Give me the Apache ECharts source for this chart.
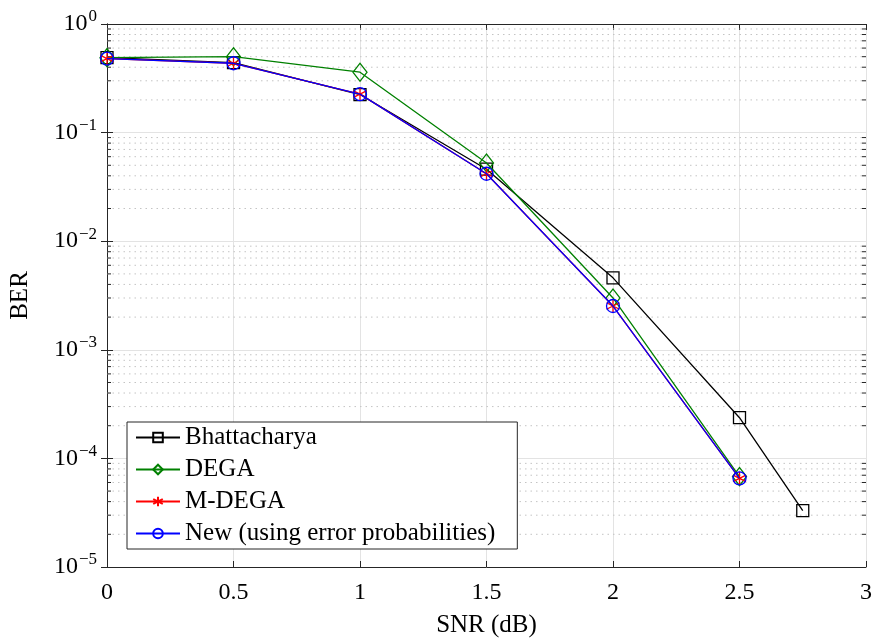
<!DOCTYPE html>
<html><head><meta charset="utf-8">
<script src="https://cdn.jsdelivr.net/npm/echarts@6/dist/echarts.min.js"></script>
<style>html,body{margin:0;padding:0;background:#fff}#c{width:873px;height:641px}</style>
</head><body><div id="c"></div>
<script>
const snrBhatta = [0, 0.5, 1, 1.5, 2, 2.5, 2.75];
const berBhatta = [0.49, 0.44, 0.224, 0.046, 0.0046, 2.37e-4, 3.3e-5];
const snrOthers = [0, 0.5, 1, 1.5, 2, 2.5];
const berDEGA = [0.49, 0.5, 0.36, 0.0525, 0.0030, 6.8e-5];
const berMDEGA = [0.48, 0.435, 0.226, 0.0418, 0.00253, 6.55e-5];
const berNew = [0.48, 0.435, 0.226, 0.0418, 0.00253, 6.55e-5];
const seriesNames = ['Bhattacharya', 'DEGA', 'M-DEGA', 'New (using error probabilities)'];
const xTicks = [0, 0.5, 1, 1.5, 2, 2.5, 3];
const yDecades = [-5, -4, -3, -2, -1, 0];
const minorMult = [2, 3, 4, 5, 6, 7, 8, 9];

const minorVals = [];
for (const d of yDecades.slice(0, -1)) for (const m of minorMult) minorVals.push(m * Math.pow(10, d));

const FONT = 'Liberation Serif';
const AX = '#262626';
const zip = (xs, ys) => xs.map((x, i) => [x, ys[i]]);
const asterisk = 'path://M0,-10L0,10M-8.66,-5L8.66,5M-8.66,5L8.66,-5';

const chart = echarts.init(document.getElementById('c'));
chart.setOption({
  animation: false,
  backgroundColor: '#fff',
  grid: { left: 107, right: 7, top: 24, bottom: 74, containLabel: false, outerBoundsMode: 'none' },
  legend: {
    orient: 'vertical', left: 127, top: 422,
    backgroundColor: '#fff', borderColor: AX, borderWidth: 1,
    padding: [3, 22, 3, 8], itemGap: 7, itemWidth: 44, itemHeight: 12,
    textStyle: { fontFamily: FONT, fontSize: 25, color: '#000' },
    data: seriesNames
  },
  xAxis: [{
    type: 'value', min: 0, max: 3, interval: 0.5,
    axisLine: { lineStyle: { color: AX } },
    axisTick: { inside: true, length: 6, lineStyle: { color: AX } },
    axisLabel: { fontFamily: FONT, fontSize: 24, color: '#000', margin: 14,
      formatter: v => String(v) },
    splitLine: { show: true, lineStyle: { color: '#e3e3e3' } },
    name: 'SNR (dB)', nameLocation: 'middle', nameGap: 46,
    nameTextStyle: { fontFamily: FONT, fontSize: 25, color: '#000' }
  }, {
    type: 'value', min: 0, max: 3, interval: 0.5, position: 'top',
    axisLine: { show: true, lineStyle: { color: AX } },
    axisTick: { show: true, inside: true, length: 6, lineStyle: { color: AX } },
    axisLabel: { show: false }, splitLine: { show: false }
  }],
  yAxis: [{
    type: 'log', logBase: 10, min: 1e-5, max: 1,
    axisLine: { show: true, lineStyle: { color: AX } },
    axisTick: { show: true, inside: true, length: 6, lineStyle: { color: AX } },
    axisLabel: { color: '#000', margin: 10,
      formatter: v => {
        const e = Math.round(Math.log10(v));
        return '{b|10}{s|' + (e < 0 ? '\u2212' + (-e) : e) + '}';
      },
      rich: {
        b: { fontFamily: FONT, fontSize: 24, color: '#000' },
        s: { fontFamily: FONT, fontSize: 17, color: '#000', padding: [0, 0, 14, 1] }
      }
    },
    splitLine: { show: true, lineStyle: { color: '#e3e3e3' } },
    name: 'BER', nameLocation: 'middle', nameGap: 74, nameRotate: 90,
    nameTextStyle: { fontFamily: FONT, fontSize: 25, color: '#000' }
  }, {
    type: 'log', logBase: 10, min: 1e-5, max: 1, position: 'right',
    axisLine: { show: true, lineStyle: { color: AX } },
    axisTick: { show: true, inside: true, length: 6, lineStyle: { color: AX } },
    axisLabel: { show: false }, splitLine: { show: false }
  }],
  series: [
    {
      type: 'custom', silent: true, z: 1,
      data: minorVals.map(v => [0, v]),
      renderItem: (params, api) => {
        const v = api.value(1);
        const a = api.coord([0, v]);
        const b = api.coord([3, v]);
        return { type: 'group', children: [
          { type: 'line', shape: { x1: a[0], y1: a[1], x2: b[0], y2: b[1] },
            style: { stroke: '#c4c4c4', lineWidth: 1, lineDash: [1.5, 4] } },
          { type: 'line', shape: { x1: a[0], y1: a[1], x2: a[0] + 4, y2: a[1] },
            style: { stroke: AX, lineWidth: 1 } },
          { type: 'line', shape: { x1: b[0], y1: b[1], x2: b[0] - 4, y2: b[1] },
            style: { stroke: AX, lineWidth: 1 } }
        ] };
      }
    },
    {
      name: seriesNames[0], type: 'line', data: zip(snrBhatta, berBhatta), z: 3,
      symbol: 'rect', symbolSize: 12, color: '#000',
      lineStyle: { color: '#000', width: 1.3 },
      itemStyle: { color: 'rgba(0,0,0,0)', borderColor: '#000', borderWidth: 1.3 }
    },
    {
      name: seriesNames[1], type: 'line', data: zip(snrOthers, berDEGA), z: 4,
      symbol: 'diamond', symbolSize: [14, 18], color: '#008000',
      lineStyle: { color: '#008000', width: 1.3 },
      itemStyle: { color: 'rgba(0,0,0,0)', borderColor: '#008000', borderWidth: 1.3 }
    },
    {
      name: seriesNames[2], type: 'line', data: zip(snrOthers, berMDEGA), z: 5,
      symbol: asterisk, symbolSize: 13, color: '#ff0000',
      lineStyle: { color: '#ff0000', width: 1.3 },
      itemStyle: { color: '#ff0000', borderColor: '#ff0000', borderWidth: 1.3 }
    },
    {
      name: seriesNames[3], type: 'line', data: zip(snrOthers, berNew), z: 6,
      symbol: 'circle', symbolSize: 13, color: '#0000ff',
      lineStyle: { color: '#0000ff', width: 1.3 },
      itemStyle: { color: 'rgba(0,0,0,0)', borderColor: '#0000ff', borderWidth: 1.3 }
    }
  ]
});
</script></body></html>
